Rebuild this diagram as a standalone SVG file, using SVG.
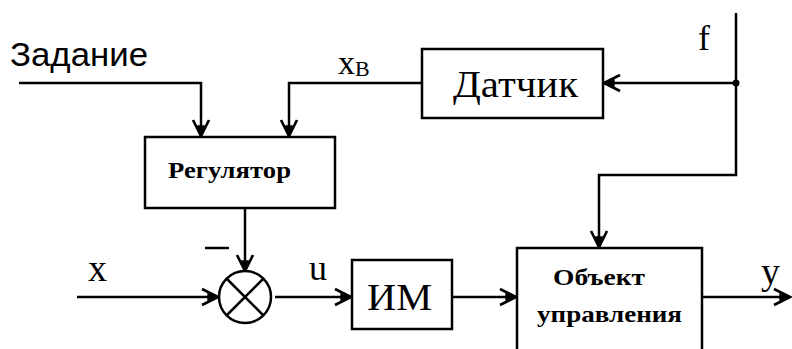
<svg xmlns="http://www.w3.org/2000/svg" width="792" height="349" viewBox="0 0 792 349">
<style>
.box{fill:#fff;stroke:#000;stroke-width:2.5}
.ln{fill:none;stroke:#000;stroke-width:2.5}
.serif{font-family:"Liberation Serif","DejaVu Serif",serif;fill:#000}
.sans{font-family:"Liberation Sans","DejaVu Sans",sans-serif;fill:#000}
</style>
<defs>
<marker id="arr" markerUnits="userSpaceOnUse" markerWidth="24" markerHeight="24" refX="0" refY="0" viewBox="-14 -9 16 18" orient="auto" overflow="visible">
<path d="M-12,-6 L0,0 L-12,6" fill="none" stroke="#000" stroke-width="2"/>
<path d="M-8,-3 L0,0 L-8,3 z" fill="#000"/>
</marker>
</defs>
<rect width="792" height="349" fill="#fff"/>
<g id="connectors">
<path class="ln" d="M19,83 H201 V136" marker-end="url(#arr)"/>
<path class="ln" d="M422,83 H289 V136" marker-end="url(#arr)"/>
<path class="ln" d="M736,13 V175 H599 V247" marker-end="url(#arr)"/>
<path class="ln" d="M736,83 H604" marker-end="url(#arr)"/>
<circle cx="736" cy="83" r="3.5" fill="#000"/>
<path class="ln" d="M245,208 V271" marker-end="url(#arr)"/>
<path class="ln" d="M77,297 H218" marker-end="url(#arr)"/>
<path class="ln" d="M275,297 H351" marker-end="url(#arr)"/>
<path class="ln" d="M452,297 H516" marker-end="url(#arr)"/>
<path class="ln" d="M702,297 H790" marker-end="url(#arr)"/>
</g>
<g id="zadanie"><text class="sans" x="10" y="66" font-size="33" textLength="138" lengthAdjust="spacingAndGlyphs">Задание</text></g>
<g id="xv"><text class="serif" x="338" y="74" font-size="34">x<tspan font-size="22" dy="2">B</tspan></text></g>
<g id="f"><text class="serif" x="698" y="50" font-size="36">f</text></g>
<g id="regulator">
<rect class="box" x="145" y="137" width="190" height="71"/>
<text class="serif" x="168" y="178" font-size="24" font-weight="bold" textLength="123" lengthAdjust="spacingAndGlyphs">Регулятор</text>
</g>
<g id="datchik">
<rect class="box" x="422" y="49" width="181" height="69"/>
<text class="serif" x="453" y="97" font-size="38" textLength="125" lengthAdjust="spacingAndGlyphs">Датчик</text>
</g>
<g id="sum">
<circle cx="245" cy="297" r="26" fill="#fff" stroke="#000" stroke-width="2.5"/>
<path class="ln" d="M227,279 L263,315 M263,279 L227,315"/>
<path class="ln" d="M205,248 H229"/>
</g>
<g id="labels">
<text class="serif" x="88" y="281" font-size="38">x</text>
<text class="serif" x="309" y="280" font-size="36">u</text>
<text class="serif" x="761" y="284" font-size="38">y</text>
</g>
<g id="im">
<rect class="box" x="352" y="260" width="100" height="69"/>
<text class="serif" x="367" y="310" font-size="38" textLength="65" lengthAdjust="spacingAndGlyphs">ИМ</text>
</g>
<g id="obekt">
<path class="box" d="M517,352 V248 H702 V352"/>
<text class="serif" x="553" y="285" font-size="24" font-weight="bold" textLength="92" lengthAdjust="spacingAndGlyphs">Объект</text>
<text class="serif" x="537" y="322" font-size="24" font-weight="bold" textLength="145" lengthAdjust="spacingAndGlyphs">управления</text>
</g>
</svg>
